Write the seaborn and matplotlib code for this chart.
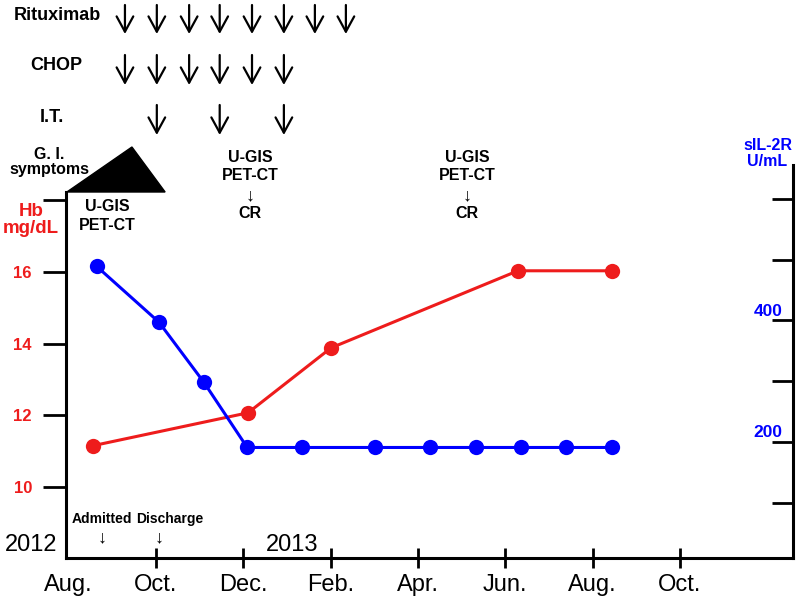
import matplotlib
matplotlib.use('Agg')
import matplotlib.pyplot as plt
import matplotlib.transforms as mtransforms
from matplotlib.patches import Polygon
import seaborn as sns

# x values are months since Aug. 2012
hb_months = [0.55, 4.11, 6.01, 10.29, 12.44]
hb_values = [11.15, 12.07, 13.88, 16.03, 16.03]
sil_months = [0.64, 2.07, 3.10, 4.09, 5.34, 7.01, 8.27, 9.33, 10.36, 11.39, 12.44]
sil_values = [489, 397, 298, 191, 191, 191, 191, 191, 191, 191, 191]
tick_months = [0, 2, 4, 6, 8, 10, 12, 14]
tick_labels = ['Aug.', 'Oct.', 'Dec.', 'Feb.', 'Apr.', 'Jun.', 'Aug.', 'Oct.']
hb_ticks = [10, 12, 14, 16, 18]
hb_tick_labels = ['10', '12', '14', '16', '']
sil_ticks = [100, 200, 300, 400, 500, 600]
sil_labeled = [200, 400]
rituximab_months = [1.29, 2.02, 2.76, 3.46, 4.20, 4.93, 5.64, 6.35]
chop_months = [1.29, 2.02, 2.76, 3.46, 4.20, 4.93]
it_months = [2.02, 3.46, 4.93]
gi_months = [-0.04, 1.45, 2.21]  # start, peak, end of G.I. symptoms

RED = '#ee1c1c'
BLUE = '#0000ff'

sns.set_style('ticks')
plt.rcParams['font.family'] = ['Liberation Sans', 'DejaVu Sans']
plt.rcParams['text.color'] = 'black'
plt.rcParams['xtick.color'] = 'black'
plt.rcParams['ytick.color'] = 'black'
plt.rcParams['axes.labelcolor'] = 'black'

W, H = 800, 604
fig = plt.figure(figsize=(8, 6.04), dpi=100)
ax = fig.add_axes([66 / W, (H - 558) / H, (793 - 66) / W, (558 - 165) / H])
ax2 = ax.twinx()

sns.lineplot(x=hb_months, y=hb_values, ax=ax, color=RED, marker='o',
             markersize=11, markeredgewidth=0, linewidth=2.2, clip_on=False)
sns.lineplot(x=sil_months, y=sil_values, ax=ax2, color=BLUE, marker='o',
             markersize=11, markeredgewidth=0, linewidth=2.2, clip_on=False)

ax.set_xlim(-0.06, 16.59)
ax.set_ylim(8.02, 18.98)
ax2.set_ylim(9.2, 655.6)
ax.set_xlabel('')
ax.set_ylabel('')
ax2.set_ylabel('')

for a in (ax, ax2):
    for s in a.spines.values():
        s.set_linewidth(2.2)
        s.set_color('black')
ax.spines['top'].set_visible(False)
ax.spines['right'].set_visible(False)
ax.spines['left'].set_bounds(8.02, 18.23)
ax2.spines['top'].set_visible(False)
ax2.spines['left'].set_visible(False)
ax2.spines['bottom'].set_visible(False)

ax.set_xticks(tick_months)
ax.set_xticklabels(tick_labels, fontsize=17, color='black')
ax.tick_params(axis='x', direction='inout', length=14.5, width=2, pad=4, colors='black')
ax.xaxis.get_major_ticks()[0].tick1line.set_visible(False)

ax.set_yticks(hb_ticks)
ax.set_yticklabels(hb_tick_labels, fontsize=12, fontweight='bold', color=RED)
ax.tick_params(axis='y', direction='out', length=16.5, width=2, pad=8, color='black')

ax2.set_yticks(sil_ticks)
ax2.set_yticklabels([])
ax2.tick_params(axis='y', direction='in', length=15, width=2, labelright=False, color='black')
ytr = ax2.get_yaxis_transform()
for v in sil_labeled:
    ax2.text(0.986, v + 3, str(v), transform=ytr, ha='right', va='bottom',
             fontsize=12.5, fontweight='bold', color=BLUE)

# treatment arrows (x in data months, y in figure)
trans = mtransforms.blended_transform_factory(ax.transData, fig.transFigure)
def fy(p):
    return 1 - p / H
arrow_kw = dict(arrowstyle='->,head_length=0.55,head_width=0.3', lw=1.6,
                color='black', shrinkA=0, shrinkB=0, mutation_scale=20)
for months, (y0, y1) in ((rituximab_months, (5, 34)), (chop_months, (55, 85)),
                         (it_months, (105, 135))):
    for m in months:
        ax.annotate('', xy=(m, fy(y1)), xytext=(m, fy(y0)), xycoords=trans,
                    textcoords=trans, arrowprops=arrow_kw, annotation_clip=False)

tri = Polygon([(gi_months[0], fy(192)), (gi_months[1], fy(147)), (gi_months[2], fy(192))],
              closed=True, transform=trans, facecolor='black', edgecolor='black',
              clip_on=False)
ax.add_patch(tri)

def ftext(px, py, s, **kw):
    kw.setdefault('ha', 'center')
    kw.setdefault('va', 'center')
    kw.setdefault('color', 'black')
    fig.text(px / W, 1 - py / H, s, **kw)

ftext(57, 16, 'Rituximab', fontsize=13, fontweight='bold')
ftext(56, 65, 'CHOP', fontsize=13, fontweight='bold')
ftext(52, 117, 'I.T.', fontsize=13, fontweight='bold')
ftext(49, 162, 'G. I.\nsymptoms', fontsize=11.5, fontweight='bold', linespacing=1.05)
ftext(31, 220, 'Hb\nmg/dL', fontsize=13.5, fontweight='bold', color=RED, linespacing=1.0)
ftext(107, 216, 'U-GIS\nPET-CT', fontsize=11.5, fontweight='bold', linespacing=1.35)
for cx in (250, 467):
    ftext(cx, 158, 'U-GIS', fontsize=11.5, fontweight='bold')
    ftext(cx, 176, 'PET-CT', fontsize=11.5, fontweight='bold')
    ftext(cx, 196, '↓', fontsize=13)
    ftext(cx, 214, 'CR', fontsize=11.5, fontweight='bold')
ftext(768, 145, 'sIL-2R', fontsize=11.5, fontweight='bold', color=BLUE)
ftext(767, 162, 'U/mL', fontsize=11.5, fontweight='bold', color=BLUE)
ftext(31, 545, '2012', fontsize=17)
ftext(292, 545, '2013', fontsize=17)
ftext(102, 519, 'Admitted', fontsize=10, fontweight='bold')
ftext(170, 519, 'Discharge', fontsize=10, fontweight='bold')
ftext(102, 538, '↓', fontsize=13)
ftext(159, 538, '↓', fontsize=13)

fig.savefig('out.png', dpi=100)
